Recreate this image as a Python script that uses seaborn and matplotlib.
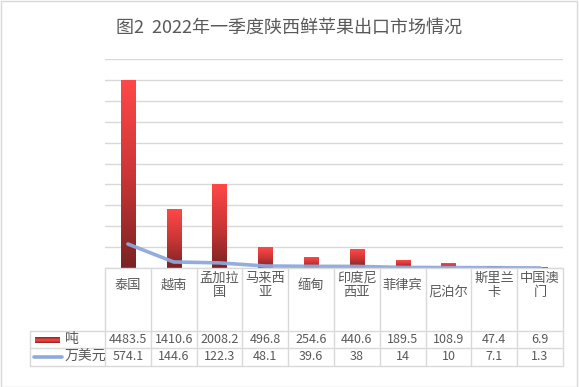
import numpy as np
import pandas as pd
import matplotlib
matplotlib.use("Agg")
import matplotlib.pyplot as plt
from matplotlib.colors import LinearSegmentedColormap
from matplotlib.lines import Line2D
from matplotlib.patches import Rectangle
import seaborn as sns

# data
countries = ['泰国', '越南', '孟加拉国', '马来西亚', '缅甸', '印度尼西亚', '菲律宾', '尼泊尔', '斯里兰卡', '中国澳门']
col_labels = ['泰国', '越南', '孟加拉\n国', '马来西\n亚', '缅甸', '印度尼\n西亚', '菲律宾', '尼泊尔', '斯里兰\n卡', '中国澳\n门']
tons = [4483.5, 1410.6, 2008.2, 496.8, 254.6, 440.6, 189.5, 108.9, 47.4, 6.9]
usd = [574.1, 144.6, 122.3, 48.1, 39.6, 38, 14, 10, 7.1, 1.3]
tons_txt = ['4483.5', '1410.6', '2008.2', '496.8', '254.6', '440.6', '189.5', '108.9', '47.4', '6.9']
usd_txt = ['574.1', '144.6', '122.3', '48.1', '39.6', '38', '14', '10', '7.1', '1.3']

sns.set_style("white")
plt.rcParams['font.family'] = ['Noto Sans CJK SC', 'DejaVu Sans']

W, H = 579, 387
fig = plt.figure(figsize=(W / 100, H / 100), dpi=100)
fig.patch.set_facecolor('white')

def fx(x):
    return x / W

def fy(y):
    return 1 - y / H

txt_color = '#595959'
grid_color = '#D9D9D9'
line_color = '#8EA9DB'

left, right, top, bottom = 105, 563, 59, 268
ax = fig.add_axes([fx(left), fy(bottom), (right - left) / W, (bottom - top) / H])

df = pd.DataFrame({'pos': np.arange(len(countries)), 'tons': tons, 'usd': usd})
sns.barplot(data=df, x='pos', y='tons', native_scale=True, width=0.31,
            color='#E03C3C', ax=ax)

# gradient fill for bars, dark at bottom to bright red at top
cmap = LinearSegmentedColormap.from_list('red', ['#7A2323', '#CC3636', '#FF4848'])
grad = np.linspace(0, 1, 256).reshape(-1, 1)
for p in list(ax.patches):
    x0, w, h = p.get_x(), p.get_width(), p.get_height()
    ax.imshow(grad, extent=[x0, x0 + w, 0, h], origin='lower', cmap=cmap,
              aspect='auto', zorder=2)
    p.set_visible(False)

sns.lineplot(data=df, x='pos', y='usd', color=line_color, lw=2.6, ax=ax,
             zorder=3, alpha=0.95)

ax.set_xlim(-0.5, 9.5)
ax.set_ylim(0, 5000)
ax.set_yticks(np.arange(0, 5001, 500))
ax.set_xticks([])
ax.yaxis.grid(True, color=grid_color, lw=1)
ax.set_axisbelow(True)
ax.tick_params(left=False, labelleft=False)
ax.set_xlabel('')
ax.set_ylabel('')
for s in ax.spines.values():
    s.set_visible(False)

# title
fig.text(0.5, fy(28), '图2  2022年一季度陕西鲜苹果出口市场情况', ha='center', va='center',
         fontsize=13, color=txt_color)

# data table under the plot
col_w = (right - left) / len(countries)
row_y = [268, 331, 348, 366]
lab_left = 30

def hline(x0, x1, y):
    fig.add_artist(Line2D([fx(x0), fx(x1)], [fy(y), fy(y)], color=grid_color, lw=1))

def vline(x, y0, y1):
    fig.add_artist(Line2D([fx(x), fx(x)], [fy(y0), fy(y1)], color=grid_color, lw=1))

hline(left, right, row_y[0])
for y in row_y[1:]:
    hline(lab_left, right, y)
for i in range(len(countries) + 1):
    vline(left + i * col_w, row_y[0], row_y[3])
vline(lab_left, row_y[1], row_y[3])

for i, lab in enumerate(col_labels):
    cx = left + (i + 0.5) * col_w
    cy = 292 if lab == '尼泊尔' else 285.5
    fig.text(fx(cx), fy(cy), lab, ha='center', va='center', fontsize=9.5,
             color=txt_color, linespacing=1.12)
    fig.text(fx(cx), fy(339.5), tons_txt[i], ha='center', va='center',
             fontsize=9, color=txt_color)
    fig.text(fx(cx), fy(357), usd_txt[i], ha='center', va='center',
             fontsize=9, color=txt_color)

# legend keys inside the table
key = fig.add_axes([fx(35), fy(343), 25 / W, 6 / H])
key.imshow(np.linspace(0, 1, 64).reshape(-1, 1), cmap=LinearSegmentedColormap.from_list(
    'k', ['#8A2626', '#FF4848', '#8A2626']), aspect='auto')
key.axis('off')
fig.add_artist(Line2D([fx(34), fx(62)], [fy(357), fy(357)], color=line_color, lw=2.6))
fig.text(fx(65), fy(339.5), '吨', ha='left', va='center', fontsize=10, color=txt_color)
fig.text(fx(65), fy(357), '万美元', ha='left', va='center', fontsize=10, color=txt_color)

# outer border
fig.add_artist(Rectangle((fx(0.5), fy(386.5)), (576.5) / W, 386 / H, transform=fig.transFigure,
                         fill=False, edgecolor=grid_color, lw=1))

fig.savefig('out.png', dpi=100)
